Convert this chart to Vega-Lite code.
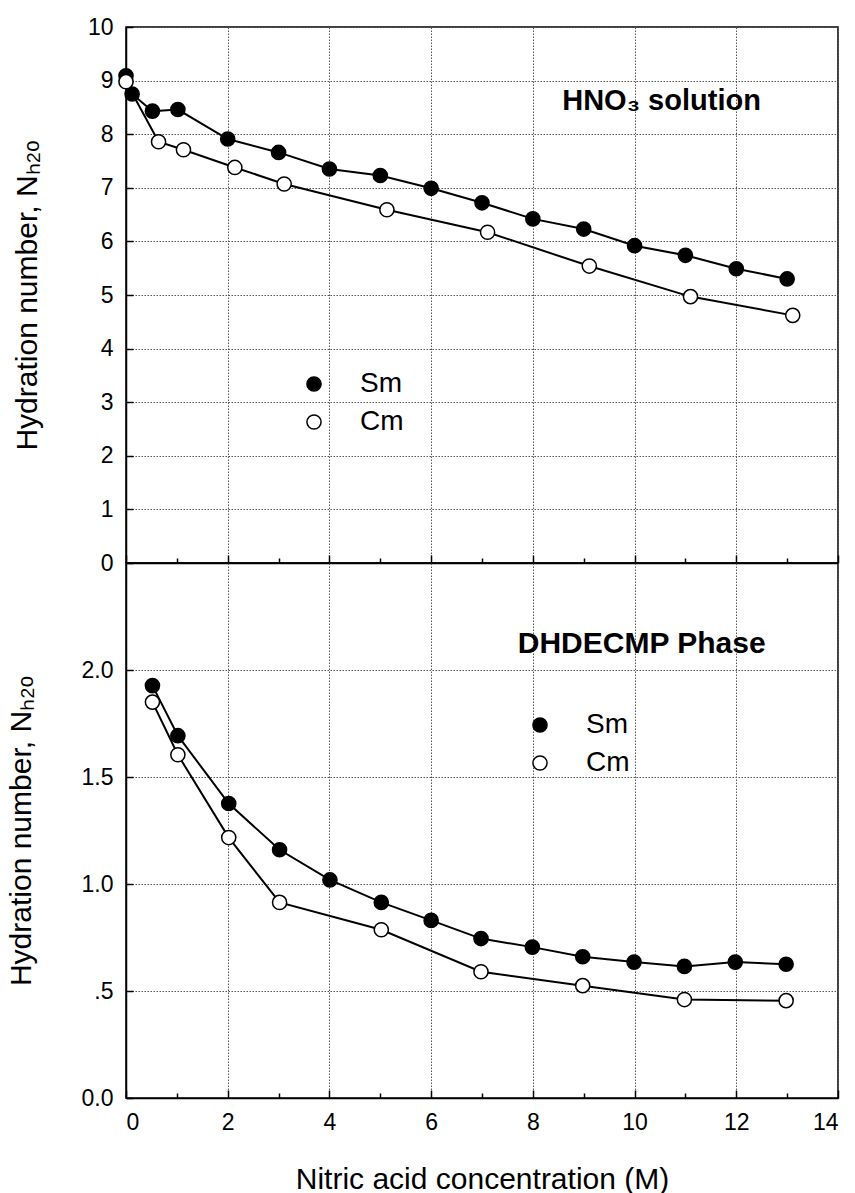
{
  "$schema": "https://vega.github.io/schema/vega-lite/v6.json",
  "background": "white",
  "padding": {"left": 5, "top": 15, "right": 5, "bottom": 5},
  "spacing": 0,
  "bounds": "flush",
  "config": {
    "font": "Liberation Sans",
    "view": {"stroke": "black", "strokeWidth": 1.5},
    "axis": {
      "domainColor": "black", "domainWidth": 1.5,
      "tickColor": "black", "tickWidth": 1.5, "tickSize": -7,
      "labelFont": "Liberation Sans", "labelFontSize": 23, "labelColor": "black",
      "titleFont": "Liberation Sans", "titleFontSize": 30, "titleFontWeight": "normal", "titleColor": "black",
      "gridColor": "#555", "gridDash": [1.5, 1.5], "gridWidth": 1
    },
    "legend": {
      "orient": "none", "title": null, "labelFontSize": 28, "labelFont": "Liberation Sans", "labelColor": "black",
      "symbolType": "circle", "symbolSize": 200, "symbolStrokeColor": "black", "symbolStrokeWidth": 1.5,
      "labelOffset": 32, "rowPadding": 10, "padding": 0
    }
  },
  "datasets": {
    "top": [
      {"metal": "Sm", "c": 0, "n": 9.09},
      {"metal": "Sm", "c": 0.12, "n": 8.75},
      {"metal": "Sm", "c": 0.52, "n": 8.43},
      {"metal": "Sm", "c": 1.02, "n": 8.46},
      {"metal": "Sm", "c": 2, "n": 7.91},
      {"metal": "Sm", "c": 3, "n": 7.66},
      {"metal": "Sm", "c": 4, "n": 7.35},
      {"metal": "Sm", "c": 5, "n": 7.23},
      {"metal": "Sm", "c": 6, "n": 6.99},
      {"metal": "Sm", "c": 7, "n": 6.72},
      {"metal": "Sm", "c": 8, "n": 6.42},
      {"metal": "Sm", "c": 9, "n": 6.23},
      {"metal": "Sm", "c": 10, "n": 5.92},
      {"metal": "Sm", "c": 11, "n": 5.74},
      {"metal": "Sm", "c": 12, "n": 5.49},
      {"metal": "Sm", "c": 13, "n": 5.3},
      {"metal": "Cm", "c": 0, "n": 8.98},
      {"metal": "Cm", "c": 0.64, "n": 7.86},
      {"metal": "Cm", "c": 1.13, "n": 7.71},
      {"metal": "Cm", "c": 2.14, "n": 7.38},
      {"metal": "Cm", "c": 3.11, "n": 7.07},
      {"metal": "Cm", "c": 5.13, "n": 6.59},
      {"metal": "Cm", "c": 7.11, "n": 6.17},
      {"metal": "Cm", "c": 9.11, "n": 5.54},
      {"metal": "Cm", "c": 11.1, "n": 4.97},
      {"metal": "Cm", "c": 13.11, "n": 4.62}
    ],
    "bottom": [
      {"metal": "Sm", "c": 0.52, "n": 1.927},
      {"metal": "Sm", "c": 1.02, "n": 1.693},
      {"metal": "Sm", "c": 2.02, "n": 1.376},
      {"metal": "Sm", "c": 3.02, "n": 1.16},
      {"metal": "Sm", "c": 4.01, "n": 1.019},
      {"metal": "Sm", "c": 5.02, "n": 0.914},
      {"metal": "Sm", "c": 6, "n": 0.83},
      {"metal": "Sm", "c": 6.98, "n": 0.745},
      {"metal": "Sm", "c": 7.99, "n": 0.705},
      {"metal": "Sm", "c": 8.98, "n": 0.66},
      {"metal": "Sm", "c": 9.99, "n": 0.635},
      {"metal": "Sm", "c": 10.98, "n": 0.615},
      {"metal": "Sm", "c": 11.98, "n": 0.635},
      {"metal": "Sm", "c": 12.98, "n": 0.625},
      {"metal": "Cm", "c": 0.52, "n": 1.85},
      {"metal": "Cm", "c": 1.02, "n": 1.604},
      {"metal": "Cm", "c": 2.02, "n": 1.217},
      {"metal": "Cm", "c": 3.02, "n": 0.914},
      {"metal": "Cm", "c": 5.02, "n": 0.786},
      {"metal": "Cm", "c": 6.98, "n": 0.59},
      {"metal": "Cm", "c": 8.98, "n": 0.525},
      {"metal": "Cm", "c": 10.98, "n": 0.46},
      {"metal": "Cm", "c": 12.98, "n": 0.455}
    ],
    "notes": [
      {"panel": "top", "label": "HNO₃ solution", "c": 10.53, "n": 8.62},
      {"panel": "bottom", "label": "DHDECMP Phase", "c": 10.14, "n": 2.12}
    ]
  },
  "resolve": {"scale": {"y": "independent", "fill": "independent"}, "legend": {"fill": "independent"}},
  "vconcat": [
    {
      "width": 712,
      "height": 536,
      "encoding": {
        "x": {"field": "c", "type": "quantitative",
          "scale": {"domain": [0, 14], "nice": false},
          "axis": {"values": [0,1,2,3,4,5,6,7,8,9,10,11,12,13,14], "labels": false, "title": null,
            "gridOpacity": {"condition": {"test": "datum.value % 2 != 0", "value": 0}, "value": 1},
            "tickSize": {"condition": {"test": "datum.value % 2 != 0", "value": -5}, "value": -8}}},
        "y": {"field": "n", "type": "quantitative",
          "scale": {"domain": [0, 10], "nice": false},
          "axis": {"values": [0,1,2,3,4,5,6,7,8,9,10], "title": "Hydration number, Nₕ₂ₒ", "labelPadding": 20, "titlePadding": 45}}
      },
      "layer": [
        {"data": {"name": "top"},
         "mark": {"type": "line", "color": "black", "strokeWidth": 2},
         "encoding": {"detail": {"field": "metal"}}},
        {"data": {"name": "top"},
         "mark": {"type": "point", "shape": "circle", "filled": true, "size": 200, "stroke": "black", "strokeWidth": 1.5, "opacity": 1},
         "encoding": {"fill": {"field": "metal", "type": "nominal",
           "scale": {"domain": ["Sm", "Cm"], "range": ["black", "white"]},
           "legend": {"legendX": 174, "legendY": 343}}}},
        {"data": {"name": "notes"},
         "transform": [{"filter": "datum.panel == 'top'"}],
         "mark": {"type": "text", "fontSize": 29, "fontWeight": "bold", "font": "Liberation Sans", "fill": "black"},
         "encoding": {"text": {"field": "label", "type": "nominal"}}}
      ]
    },
    {
      "width": 712,
      "height": 535,
      "encoding": {
        "x": {"field": "c", "type": "quantitative",
          "scale": {"domain": [0, 14], "nice": false},
          "axis": {"values": [0,1,2,3,4,5,6,7,8,9,10,11,12,13,14],
            "labelExpr": "datum.value % 2 == 0 ? datum.label : ''",
            "labelPadding": 21, "title": "Nitric acid  concentration (M)", "titlePadding": 30,
            "gridOpacity": {"condition": {"test": "datum.value % 2 != 0", "value": 0}, "value": 1},
            "tickSize": {"condition": {"test": "datum.value % 2 != 0", "value": -5}, "value": -8}}},
        "y": {"field": "n", "type": "quantitative",
          "scale": {"domain": [0, 2.5], "nice": false},
          "axis": {"values": [0, 0.5, 1, 1.5, 2],
            "labelExpr": "datum.value == 0.5 ? '.5' : format(datum.value, '.1f')",
            "title": "Hydration number, Nₕ₂ₒ", "labelPadding": 20, "titlePadding": 45}}
      },
      "layer": [
        {"data": {"name": "bottom"},
         "mark": {"type": "line", "color": "black", "strokeWidth": 2},
         "encoding": {"detail": {"field": "metal"}}},
        {"data": {"name": "bottom"},
         "mark": {"type": "point", "shape": "circle", "filled": true, "size": 200, "stroke": "black", "strokeWidth": 1.5, "opacity": 1},
         "encoding": {"fill": {"field": "metal", "type": "nominal",
           "scale": {"domain": ["Sm", "Cm"], "range": ["black", "white"]},
           "legend": {"legendX": 400, "legendY": 148}}}},
        {"data": {"name": "notes"},
         "transform": [{"filter": "datum.panel == 'bottom'"}],
         "mark": {"type": "text", "fontSize": 30, "fontWeight": "bold", "font": "Liberation Sans", "fill": "black"},
         "encoding": {"text": {"field": "label", "type": "nominal"}}}
      ]
    }
  ]
}
